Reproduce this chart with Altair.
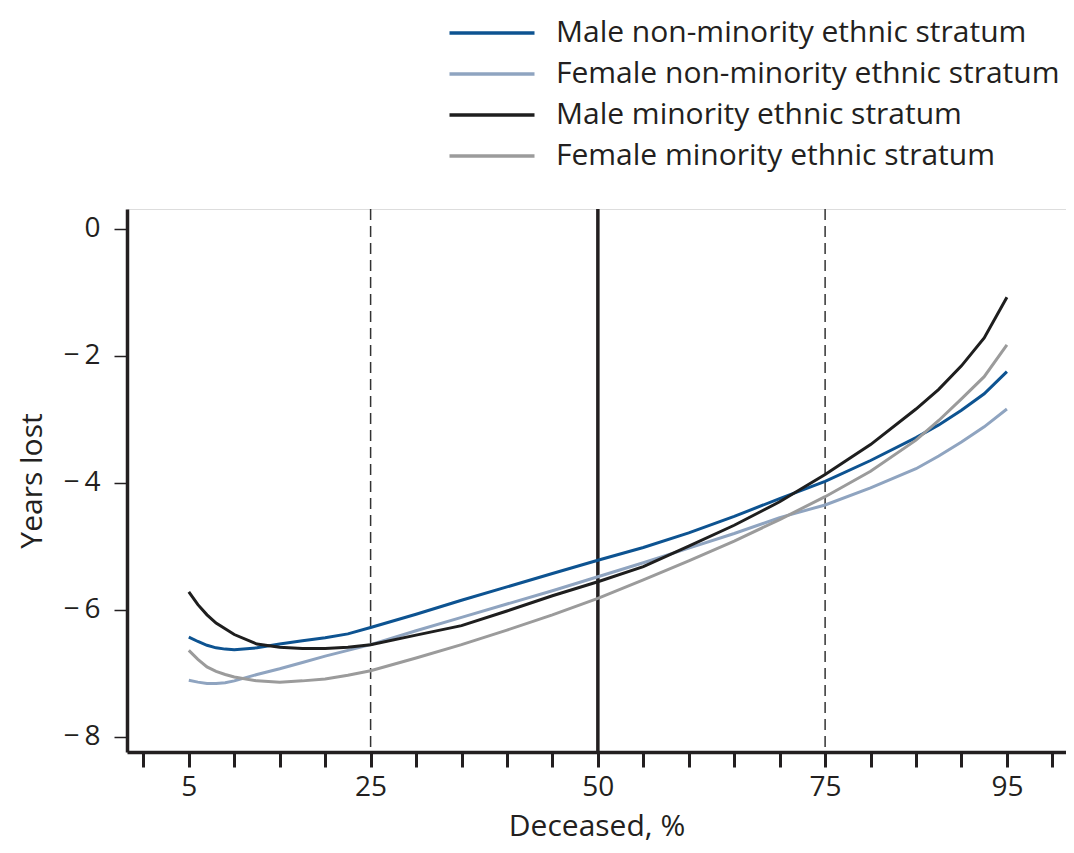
import altair as alt
import pandas as pd

# ---- data ----
pct = [5, 6, 7, 8, 9, 10, 12.5, 15, 17.5, 20, 22.5, 25, 30, 35, 40, 45, 50,
       55, 60, 65, 70, 75, 80, 85, 87.5, 90, 92.5, 95]
male_nonmin = [-6.43, -6.50, -6.56, -6.60, -6.62, -6.63, -6.60, -6.54, -6.49, -6.44,
               -6.38, -6.28, -6.07, -5.85, -5.64, -5.43, -5.22, -5.02, -4.79, -4.53,
               -4.25, -3.98, -3.65, -3.29, -3.09, -2.86, -2.60, -2.25]
female_nonmin = [-7.11, -7.14, -7.16, -7.16, -7.15, -7.12, -7.02, -6.93, -6.83, -6.73,
                 -6.64, -6.55, -6.33, -6.12, -5.91, -5.70, -5.48, -5.26, -5.03, -4.80,
                 -4.55, -4.35, -4.08, -3.78, -3.58, -3.36, -3.12, -2.84]
male_min = [-5.72, -5.92, -6.08, -6.21, -6.30, -6.39, -6.54, -6.59, -6.61, -6.61,
            -6.59, -6.55, -6.40, -6.25, -6.02, -5.78, -5.56, -5.32, -5.00, -4.67,
            -4.30, -3.87, -3.40, -2.84, -2.53, -2.16, -1.72, -1.08]
female_min = [-6.64, -6.78, -6.90, -6.97, -7.02, -7.06, -7.12, -7.14, -7.12, -7.09,
              -7.03, -6.96, -6.76, -6.55, -6.32, -6.08, -5.82, -5.53, -5.23, -4.92,
              -4.58, -4.22, -3.82, -3.33, -3.02, -2.68, -2.33, -1.83]

series_names = ["Male non-minority ethnic stratum",
                "Female non-minority ethnic stratum",
                "Male minority ethnic stratum",
                "Female minority ethnic stratum"]
series_colors = ["#0d5391", "#8fa4c0", "#1e1e1e", "#9b9b9b"]

x_ticks = list(range(0, 101, 5))
x_labelled = [5, 25, 50, 75, 95]
y_ticks = [0, -2, -4, -6, -8]
dashed_refs = [25, 75]
solid_refs = [50]

rows = []
for name, vals in zip(series_names, [male_nonmin, female_nonmin, male_min, female_min]):
    for p, v in zip(pct, vals):
        rows.append({"Deceased": p, "Years": v, "Series": name})
df = pd.DataFrame(rows)

INK = "#231f20"
FONT = "Open Sans"

x_scale = alt.Scale(domain=[-1.8, 101.5], nice=False, zero=False)
y_scale = alt.Scale(domain=[-8.24, 0.31], nice=False, zero=False)

label_expr_x = ("indexof([" + ",".join(str(v) for v in x_labelled) +
                "], datum.value) >= 0 ? format(datum.value, 'd') : ''")
label_expr_y = ("datum.value < 0 ? '\u2212\u2009' + format(-datum.value, 'd') "
                ": format(datum.value, 'd')")

x_axis = alt.Axis(values=x_ticks, labelExpr=label_expr_x, tickSize=15, tickWidth=3,
                  tickColor=INK, domainWidth=3.5, domainColor=INK, labelFontSize=28,
                  labelPadding=6, labelColor=INK, labelFont=FONT, title="Deceased, %",
                  titleFontSize=30, titleFontWeight="normal", titleColor=INK,
                  titleFont=FONT, titlePadding=10, grid=False, labelFlush=False,
                  labelOverlap=False)
y_axis = alt.Axis(values=y_ticks, labelExpr=label_expr_y, tickSize=13, tickWidth=1.5,
                  tickColor=INK, domainWidth=3.5, domainColor=INK, labelFontSize=28,
                  labelPadding=14, labelColor=INK, labelFont=FONT, title="Years lost",
                  titleFontSize=30, titleFontWeight="normal", titleColor=INK,
                  titleFont=FONT, titlePadding=16, grid=False, labelFlush=False,
                  labelOverlap=False)

dashed = alt.Chart(pd.DataFrame({"ref": dashed_refs})).mark_rule(
    strokeDash=[11, 6], strokeWidth=1.5, color="#333333"
).encode(x=alt.X("ref:Q", scale=x_scale, axis=x_axis, title="Deceased, %"))

solid = alt.Chart(pd.DataFrame({"ref": solid_refs})).mark_rule(
    strokeWidth=3.5, color=INK
).encode(x=alt.X("ref:Q", scale=x_scale, axis=x_axis, title="Deceased, %"))

lines = alt.Chart(df).mark_line(strokeWidth=3).encode(
    x=alt.X("Deceased:Q", scale=x_scale, axis=x_axis, title="Deceased, %"),
    y=alt.Y("Years:Q", scale=y_scale, axis=y_axis, title="Years lost"),
    color=alt.Color("Series:N",
                    scale=alt.Scale(domain=series_names, range=series_colors),
                    legend=alt.Legend(title=None, orient="none", legendX=349,
                                      legendY=-192, direction="vertical",
                                      symbolType="M-3,0H3", symbolSize=803,
                                      symbolStrokeWidth=3.5, labelFontSize=30,
                                      labelFont=FONT, labelColor=INK, labelLimit=800,
                                      rowPadding=10, labelOffset=48, padding=0)),
)

chart = alt.layer(dashed, solid, lines).properties(
    width=939, height=543,
    autosize=alt.AutoSizeParams(type="none"),
    padding={"left": 119, "top": 201, "right": 0, "bottom": 91},
).configure_view(stroke=None).configure(font=FONT)

chart.save("out.html", embed_options={"renderer": "svg", "actions": False})
